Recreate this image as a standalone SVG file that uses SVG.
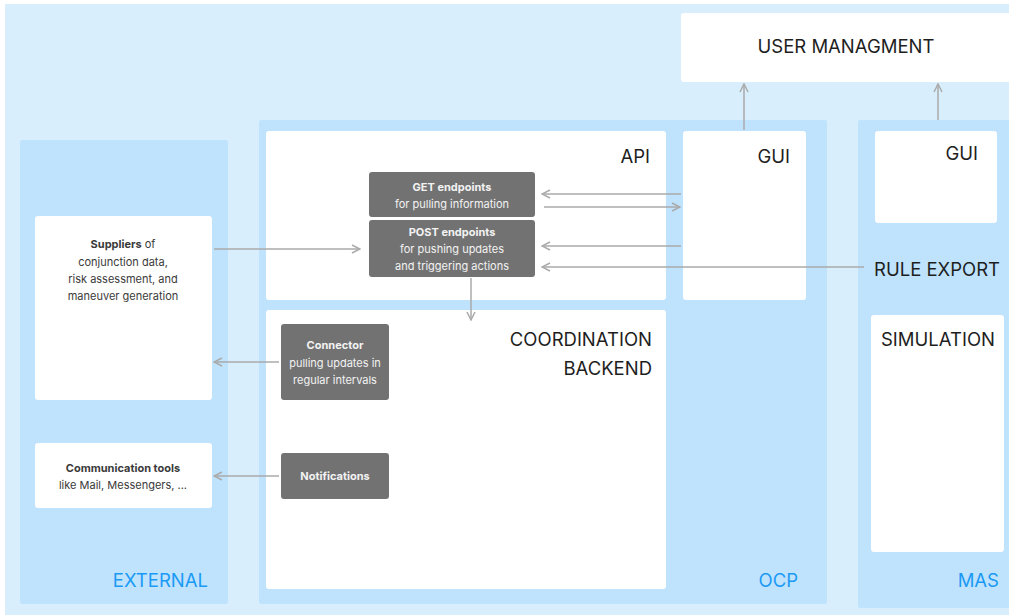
<svg xmlns="http://www.w3.org/2000/svg" width="1009" height="615" viewBox="0 0 1009 615">
<defs>
<style>
.bg{fill:#d9eefd}
.panel{fill:#bfe3fd}
.box{fill:#ffffff}
.dark{fill:#727272}
.title{font-family:Inter,"Liberation Sans",sans-serif;font-size:18.5px;fill:#1e1e1e}
.zone{font-family:Inter,"Liberation Sans",sans-serif;font-size:18.5px;fill:#1a9af5}
.small{font-family:Inter,"Liberation Sans",sans-serif;font-size:11px;fill:#3a3a3a;text-anchor:middle}
.light{font-family:Inter,"Liberation Sans",sans-serif;font-size:11px;fill:#f2f2f2;text-anchor:middle}
.b{font-weight:bold}
.conn{stroke:#aaaaaa;stroke-width:1.5;fill:none;marker-end:url(#arr)}
</style>
<marker id="arr" viewBox="0 0 10 10" refX="9" refY="5" markerWidth="10" markerHeight="10" markerUnits="userSpaceOnUse" orient="auto">
<path d="M1,1 L9,5 L1,9" fill="none" stroke="#aaaaaa" stroke-width="1.5"/>
</marker>
</defs>
<rect class="bg" x="5" y="4" width="1004" height="611"/>
<g id="external">
<rect class="panel" x="20" y="140" width="208" height="464" rx="2"/>
<text class="zone" x="208" y="587" text-anchor="end">EXTERNAL</text>
</g>
<g id="ocp">
<rect class="panel" x="259" y="120" width="568" height="484" rx="2"/>
<text class="zone" x="798" y="587" text-anchor="end">OCP</text>
</g>
<g id="mas">
<rect class="panel" x="858" y="120" width="160" height="488" rx="2"/>
<text class="zone" x="999" y="587" text-anchor="end">MAS</text>
</g>
<g id="user-management">
<rect class="box" x="681" y="13" width="340" height="69" rx="3"/>
<text class="title" x="846" y="53" text-anchor="middle">USER MANAGMENT</text>
</g>
<g id="api">
<rect class="box" x="266" y="131" width="400" height="169" rx="3"/>
<text class="title" x="650" y="163" text-anchor="end">API</text>
</g>
<g id="ocp-gui">
<rect class="box" x="683" y="131" width="123" height="169" rx="3"/>
<text class="title" x="790" y="163" text-anchor="end">GUI</text>
</g>
<g id="coordination-backend">
<rect class="box" x="266" y="310" width="400" height="279" rx="3"/>
<text class="title" x="652" y="346" text-anchor="end">COORDINATION</text>
<text class="title" x="652" y="375" text-anchor="end">BACKEND</text>
</g>
<g id="suppliers">
<rect class="box" x="35" y="216" width="177" height="184" rx="3"/>
<text class="small" x="123" y="248"><tspan class="b">Suppliers</tspan> of</text>
<text class="small" x="123" y="266">conjunction data,</text>
<text class="small" x="123" y="283">risk assessment, and</text>
<text class="small" x="123" y="300">maneuver generation</text>
</g>
<g id="communication-tools">
<rect class="box" x="35" y="443" width="177" height="65" rx="3"/>
<text class="small b" x="123" y="472">Communication tools</text>
<text class="small" x="123" y="489">like Mail, Messengers, ...</text>
</g>
<g id="get-endpoints">
<rect class="dark" x="369" y="172" width="166" height="45" rx="3"/>
<text class="light b" x="452" y="191">GET endpoints</text>
<text class="light" x="452" y="208">for pulling information</text>
</g>
<g id="post-endpoints">
<rect class="dark" x="369" y="220" width="166" height="57" rx="3"/>
<text class="light b" x="452" y="236">POST endpoints</text>
<text class="light" x="452" y="253">for pushing updates</text>
<text class="light" x="452" y="270">and triggering actions</text>
</g>
<g id="connector">
<rect class="dark" x="281" y="324" width="108" height="76" rx="3"/>
<text class="light b" x="335" y="349">Connector</text>
<text class="light" x="335" y="367">pulling updates in</text>
<text class="light" x="335" y="384">regular intervals</text>
</g>
<g id="notifications">
<rect class="dark" x="281" y="453" width="108" height="46" rx="3"/>
<text class="light b" x="335" y="480">Notifications</text>
</g>
<g id="mas-gui">
<rect class="box" x="875" y="131" width="122" height="92" rx="3"/>
<text class="title" x="978" y="160" text-anchor="end">GUI</text>
</g>
<g id="rule-export">
<text class="title" x="874" y="276">RULE EXPORT</text>
</g>
<g id="simulation">
<rect class="box" x="871" y="315" width="133" height="237" rx="3"/>
<text class="title" x="881" y="346">SIMULATION</text>
</g>
<g id="connectors">
<line class="conn" x1="681" y1="194" x2="542" y2="194"/>
<line class="conn" x1="544" y1="207" x2="680" y2="207"/>
<line class="conn" x1="681" y1="246" x2="542" y2="246"/>
<line class="conn" x1="864" y1="267" x2="542" y2="267"/>
<line class="conn" x1="214" y1="249" x2="360" y2="249"/>
<line class="conn" x1="471" y1="278" x2="471" y2="320"/>
<line class="conn" x1="279" y1="362" x2="214" y2="362"/>
<line class="conn" x1="279" y1="476" x2="214" y2="476"/>
<line class="conn" x1="744" y1="130" x2="744" y2="84"/>
<line class="conn" x1="938" y1="120" x2="938" y2="84"/>
</g>
</svg>
